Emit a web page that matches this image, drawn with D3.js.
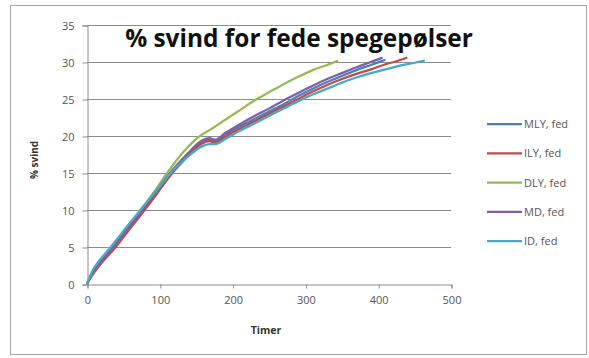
<!DOCTYPE html>
<html>
<head>
<meta charset="utf-8">
<script src="https://cdn.jsdelivr.net/npm/d3@7"></script>
<style>
  body { margin: 0; background: #fff; }
  text { font-family: "Open Sans", "Liberation Sans", sans-serif; }
</style>
</head>
<body>
<script>
// series names, colours and [timer, % svind] readings
var names = ["MLY, fed", "ILY, fed", "DLY, fed", "MD, fed", "ID, fed"];
var colors = ["#4a7ebb", "#be4b48", "#98b954", "#7d60a0", "#46aac5"];

var mly = [[0,0],[6,1.2],[14,2.4],[24,3.6],[36,5],[56,7.5],[76,10],[96,12.5],[114,14.8],[136,17.2],[158,19.2],[168,19.5],[176,19.3],[190,20.2],[210,21.3],[230,22.3],[250,23.3],[270,24.3],[290,25.4],[310,26.4],[330,27.3],[350,28.1],[370,28.9],[390,29.6],[410,30.3]];
var ily = [[0,0],[6,1.0],[14,2.1],[24,3.3],[36,4.6],[56,7.1],[76,9.6],[96,12.2],[114,14.6],[136,17.0],[158,19.0],[168,19.3],[176,19.1],[190,19.9],[210,21.0],[230,22.0],[250,23.0],[270,24.0],[290,25.0],[310,26.0],[330,26.9],[350,27.7],[370,28.4],[390,29.0],[410,29.7],[425,30.1],[440,30.6]];
var dly = [[0,0],[6,1.2],[14,2.4],[24,3.7],[36,5.1],[56,7.7],[76,10.3],[96,13.0],[110,15.0],[132,17.8],[155,20.0],[170,20.9],[190,22.2],[210,23.5],[230,24.8],[250,25.9],[270,27.0],[290,28.0],[310,28.9],[330,29.6],[345,30.2]];
var md = [[0,0],[6,1.2],[14,2.4],[24,3.6],[36,5],[56,7.5],[76,10],[96,12.6],[114,15],[136,17.4],[158,19.4],[168,19.7],[176,19.5],[190,20.4],[210,21.6],[230,22.7],[250,23.7],[270,24.8],[290,25.8],[310,26.8],[330,27.7],[350,28.5],[370,29.3],[390,30],[406,30.6]];
var id = [[0,0],[6,1.5],[14,2.8],[24,4.0],[36,5.4],[56,7.9],[76,10.3],[96,12.7],[114,14.9],[136,17.0],[158,18.6],[168,18.9],[176,18.9],[190,19.6],[210,20.7],[230,21.7],[250,22.7],[270,23.7],[290,24.7],[310,25.6],[330,26.4],[350,27.2],[370,27.9],[390,28.5],[410,29.0],[430,29.5],[450,29.9],[464,30.2]];
var seriesData = [mly, ily, dly, md, id];

var xTicks = [0, 100, 200, 300, 400, 500];
var yTicks = [0, 5, 10, 15, 20, 25, 30, 35];

var W = 589, H = 358;
var plot = {left: 87, right: 451, top: 25, bottom: 284};

var svg = d3.select("body").append("svg")
    .attr("width", W)
    .attr("height", H);

// chart frame
svg.append("rect")
    .attr("x", 10.5).attr("y", 5.5)
    .attr("width", 576).attr("height", 349)
    .attr("fill", "#fff")
    .attr("stroke", "#a6a6a6");

var x = d3.scaleLinear().domain([0, 500]).range([plot.left, plot.right]);
var y = d3.scaleLinear().domain([0, 35]).range([plot.bottom, plot.top]);

// gridlines
svg.append("g").selectAll("line")
    .data(yTicks.slice(1))
    .enter().append("line")
    .attr("x1", plot.left).attr("x2", plot.right)
    .attr("y1", function(d) { return Math.round(y(d)) + 0.5; })
    .attr("y2", function(d) { return Math.round(y(d)) + 0.5; })
    .attr("stroke", "#8c8c8c");

// Y axis
var yAxis = d3.axisLeft(y).tickValues(yTicks).tickSize(5).tickPadding(8);
var gy = svg.append("g")
    .attr("transform", "translate(" + (plot.left + 0.5) + ",0.5)")
    .call(yAxis);

// X axis
var xAxis = d3.axisBottom(x).tickValues(xTicks).tickSize(4).tickPadding(8);
var gx = svg.append("g")
    .attr("transform", "translate(0.5," + (plot.bottom + 0.5) + ")")
    .call(xAxis);

[gx, gy].forEach(function(g) {
  g.select(".domain").attr("stroke", "#8c8c8c");
  g.selectAll(".tick line").attr("stroke", "#8c8c8c");
  g.selectAll(".tick text")
      .attr("fill", "#555")
      .style("font-size", "11px")
      .style("font-family", "'Open Sans', sans-serif");
});

// lines
var line = d3.line()
    .x(function(d) { return x(d[0]); })
    .y(function(d) { return y(d[1]); })
    .curve(d3.curveMonotoneX);

svg.append("g").selectAll("path")
    .data(seriesData)
    .enter().append("path")
    .attr("d", line)
    .attr("fill", "none")
    .attr("stroke", function(d, i) { return colors[i]; })
    .attr("stroke-width", 2.25)
    .attr("stroke-linejoin", "round");

// title
var title = svg.append("text")
    .attr("x", 299).attr("y", 47)
    .attr("text-anchor", "middle")
    .style("font-size", "22px")
    .style("font-weight", "bold")
    .attr("fill", "#111")
    .text("% svind for fede spegepølser");
var tw = title.node().getComputedTextLength();
title.style("font-size", (22 * 348 / tw) + "px");

// axis titles
svg.append("text")
    .attr("transform", "translate(38,160) rotate(-90)")
    .attr("text-anchor", "middle")
    .style("font-size", "10px")
    .style("font-weight", "bold")
    .attr("fill", "#333")
    .text("% svind");

svg.append("text")
    .attr("x", 266).attr("y", 334)
    .attr("text-anchor", "middle")
    .style("font-size", "10.5px")
    .style("font-weight", "bold")
    .attr("fill", "#333")
    .text("Timer");

// legend
var legend = svg.append("g").selectAll("g")
    .data(names)
    .enter().append("g")
    .attr("transform", function(d, i) { return "translate(487," + (124 + i * 29.3) + ")"; });

legend.append("line")
    .attr("x1", 0).attr("x2", 35)
    .attr("stroke", function(d, i) { return colors[i]; })
    .attr("stroke-width", 2.25);

legend.append("text")
    .attr("x", 37).attr("y", 4)
    .style("font-size", "11px")
    .attr("fill", "#555")
    .text(function(d) { return d; });
</script>
</body>
</html>
